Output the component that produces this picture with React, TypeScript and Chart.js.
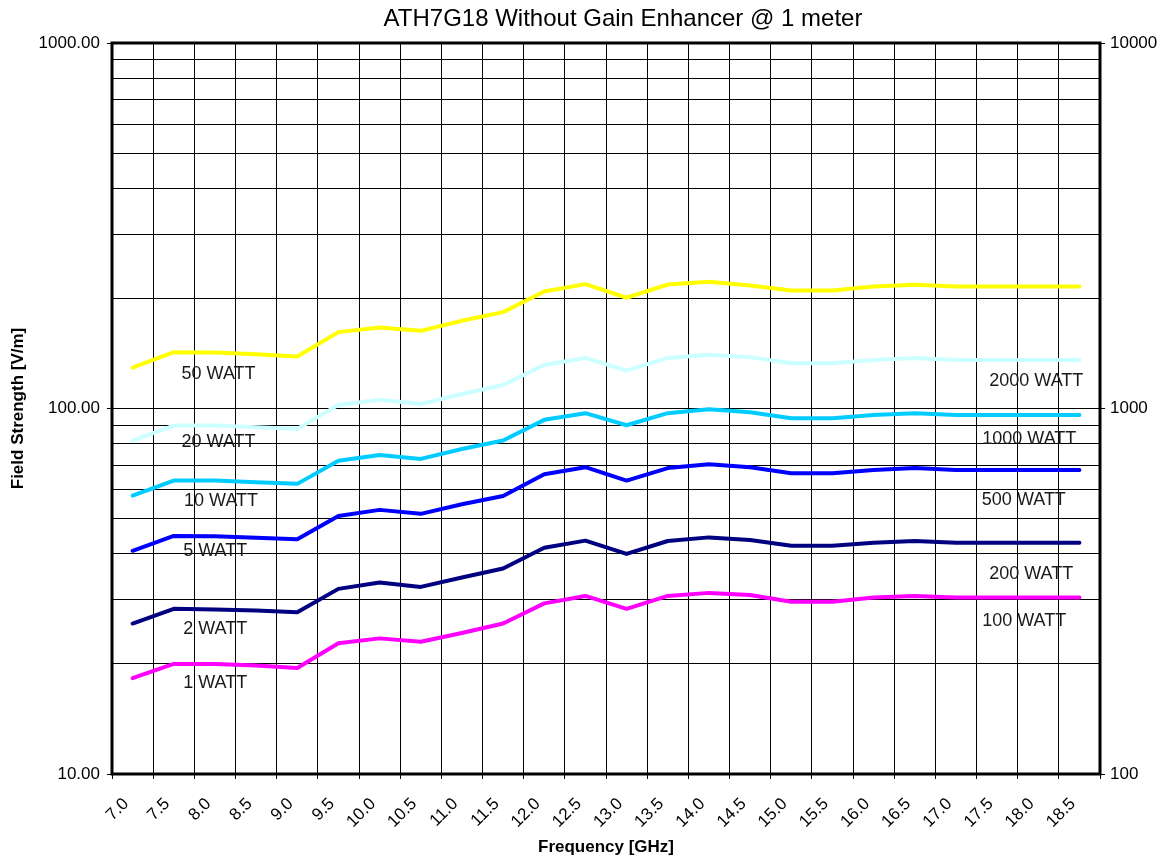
import React, { useEffect, useRef } from 'react';
import { Chart, registerables } from 'chart.js';

Chart.register(...registerables);

// ---- data ----
const categories = ['7.0', '7.5', '8.0', '8.5', '9.0', '9.5', '10.0', '10.5', '11.0', '11.5', '12.0', '12.5',
  '13.0', '13.5', '14.0', '14.5', '15.0', '15.5', '16.0', '16.5', '17.0', '17.5', '18.0', '18.5'];

const watt50 = [129.4, 142.6, 142.3, 140.8, 138.7, 161.8, 166.5, 163.1, 173.8, 183.5, 208.9, 218.9,
  200.9, 218.4, 222.1, 216.9, 210.2, 210.2, 215.6, 217.9, 215.6, 215.6, 215.6, 215.6];
const watt20 = [81.7, 89.8, 89.8, 88.9, 87.9, 102.3, 105.6, 102.9, 109.6, 116.0, 131.6, 137.5,
  127.0, 137.5, 140.4, 138.2, 133.0, 133.0, 135.8, 137.5, 135.8, 135.8, 135.8, 135.8];
const watt10 = [57.8, 63.5, 63.5, 62.8, 62.2, 72.0, 74.6, 72.8, 77.5, 81.7, 93.1, 97.1,
  90.0, 97.1, 99.6, 97.7, 94.1, 94.1, 96.0, 97.1, 96.0, 96.0, 96.0, 96.0];
const watt5 = [40.8, 44.8, 44.7, 44.3, 43.9, 50.8, 52.8, 51.5, 54.7, 57.6, 66.1, 69.1,
  63.5, 68.7, 70.4, 69.1, 66.5, 66.5, 67.9, 68.7, 67.9, 67.9, 67.9, 67.9];
const watt2 = [25.8, 28.3, 28.2, 28.0, 27.7, 32.1, 33.4, 32.5, 34.5, 36.5, 41.6, 43.5,
  40.0, 43.4, 44.4, 43.7, 42.1, 42.1, 42.9, 43.4, 42.9, 42.9, 42.9, 42.9];
const watt1 = [18.3, 20.0, 20.0, 19.8, 19.5, 22.8, 23.5, 23.0, 24.3, 25.8, 29.3, 30.7,
  28.3, 30.7, 31.3, 30.9, 29.6, 29.6, 30.4, 30.7, 30.4, 30.4, 30.4, 30.4];

const seriesValues = [watt50, watt20, watt10, watt5, watt2, watt1];
const seriesNames = ['50 WATT', '20 WATT', '10 WATT', '5 WATT', '2 WATT', '1 WATT'];
const seriesColors = ['#FFFF00', '#CCFFFF', '#00CCFF', '#0000FF', '#000080', '#FF00FF'];

const yGridValues = [10, 20, 30, 40, 50, 60, 70, 80, 90, 100, 200, 300, 400, 500, 600, 700, 800, 900, 1000];
const yMajorValues = [10, 100, 1000];
const yTickLabels = ['10.00', '100.00', '1000.00'];
const y2MajorValues = [100, 1000, 10000];
const y2TickLabels = ['100', '1000', '10000'];

const chartTitle = 'ATH7G18 Without Gain Enhancer @ 1 meter';
const xTitle = 'Frequency [GHz]';
const yTitle = 'Field Strength [V/m]';

// text annotations anchored in data space (x = category index units, y = V/m)
const labelTexts = ['50 WATT', '20 WATT', '10 WATT', '5 WATT', '2 WATT', '1 WATT',
  '2000 WATT', '1000 WATT', '500 WATT', '200 WATT', '100 WATT'];
const labelX = [1.69, 1.69, 1.75, 1.73, 1.73, 1.73, 21.31, 21.14, 21.13, 21.31, 21.14];
const labelY = [124.0, 81.0, 55.9, 40.8, 24.9, 17.7, 119.2, 82.4, 56.3, 35.3, 26.2];

const FONT = '"Liberation Sans", Arial, sans-serif';

const framePlugin = {
  id: 'frame',
  afterDraw(chart: any) {
    const { ctx, chartArea } = chart;
    const { left, top, right, bottom } = chartArea;
    ctx.save();
    ctx.strokeStyle = '#000';
    ctx.lineWidth = 3;
    ctx.strokeRect(left, top, right - left, bottom - top);
    ctx.restore();
  },
};

const textPlugin = {
  id: 'texts',
  afterDraw(chart: any) {
    const { ctx } = chart;
    const xs = chart.scales.x;
    const ys = chart.scales.y;
    ctx.save();
    ctx.fillStyle = '#1a1a1a';
    ctx.font = `18px ${FONT}`;
    ctx.textAlign = 'left';
    ctx.textBaseline = 'middle';
    labelTexts.forEach((t, i) => {
      ctx.fillText(t, xs.getPixelForValue(labelX[i]), ys.getPixelForValue(labelY[i]));
    });
    // chart title
    ctx.fillStyle = '#000';
    ctx.font = `24px ${FONT}`;
    ctx.textAlign = 'center';
    const cx = (chart.chartArea.left + chart.chartArea.right) / 2 + 17;
    ctx.fillText(chartTitle, cx, 19);
    ctx.restore();
  },
};

export default function App() {
  const ref = useRef<HTMLCanvasElement>(null);

  useEffect(() => {
    if (!ref.current) return;
    const datasets = seriesValues.map((vals, si) => ({
      label: seriesNames[si],
      data: vals.map((v, i) => ({ x: i + 0.5, y: v })),
      borderColor: seriesColors[si],
      backgroundColor: seriesColors[si],
      borderWidth: 4,
      pointRadius: 0,
      tension: 0,
      borderJoinStyle: 'round' as const,
      borderCapStyle: 'round' as const,
      yAxisID: 'y',
    }));

    const chart = new Chart(ref.current, {
      type: 'line',
      data: { datasets },
      options: {
        animation: false,
        responsive: false,
        maintainAspectRatio: false,
        layout: { padding: { top: 43, left: 0, right: 0, bottom: 0 } },
        plugins: {
          legend: { display: false },
          tooltip: { enabled: false },
          title: { display: false },
        },
        scales: {
          x: {
            type: 'linear',
            min: 0,
            max: categories.length,
            afterBuildTicks: (s: any) => {
              s.ticks = Array.from({ length: categories.length + 1 }, (_, i) => ({ value: i }));
            },
            afterFit: (s: any) => { s.height = 87; },
            ticks: {
              autoSkip: false,
              maxRotation: 45,
              minRotation: 45,
              padding: 15,
              labelOffset: 14,
              color: '#000',
              font: { size: 17, family: FONT },
              callback: (v: any) => categories[v] ?? '',
            },
            grid: { color: '#000', lineWidth: 1, tickLength: 5, tickColor: '#000' },
            border: { display: false },
            title: {
              display: true,
              text: xTitle,
              color: '#000',
              font: { size: 17, weight: 'bold', family: FONT },
              padding: { top: 0, bottom: 3 },
            },
          },
          y: {
            type: 'logarithmic',
            position: 'left',
            min: 10,
            max: 1000,
            afterBuildTicks: (s: any) => {
              s.ticks = yGridValues.map((v) => ({ value: v }));
            },
            afterFit: (s: any) => { s.width = 112; },
            ticks: {
              autoSkip: false,
              padding: 7,
              color: '#000',
              font: { size: 17, family: FONT },
              callback: (v: any) => {
                const i = yMajorValues.indexOf(Number(v));
                return i >= 0 ? yTickLabels[i] : '';
              },
            },
            grid: {
              color: '#000',
              lineWidth: 1,
              tickLength: 5,
              tickColor: (ctx: any) => (yMajorValues.includes(ctx.tick?.value) ? '#000' : 'rgba(0,0,0,0)'),
            },
            border: { display: false },
            title: {
              display: true,
              text: yTitle,
              color: '#000',
              font: { size: 17, weight: 'bold', family: FONT },
              padding: { top: 8, bottom: 0 },
            },
          },
          y2: {
            type: 'logarithmic',
            position: 'right',
            min: 100,
            max: 10000,
            afterBuildTicks: (s: any) => {
              s.ticks = y2MajorValues.map((v) => ({ value: v }));
            },
            afterFit: (s: any) => { s.width = 60; },
            ticks: {
              autoSkip: false,
              padding: 5,
              color: '#000',
              font: { size: 17, family: FONT },
              callback: (v: any) => {
                const i = y2MajorValues.indexOf(Number(v));
                return i >= 0 ? y2TickLabels[i] : '';
              },
            },
            grid: { drawOnChartArea: false, color: '#000', tickLength: 5 },
            border: { display: false },
          },
        },
      },
      plugins: [framePlugin, textPlugin],
    } as any);

    return () => chart.destroy();
  }, []);

  return (
    <div style={{ position: 'absolute', left: 0, top: 0, width: 1160, height: 861, background: '#fff' }}>
      <canvas ref={ref} width={1160} height={861} />
    </div>
  );
}
